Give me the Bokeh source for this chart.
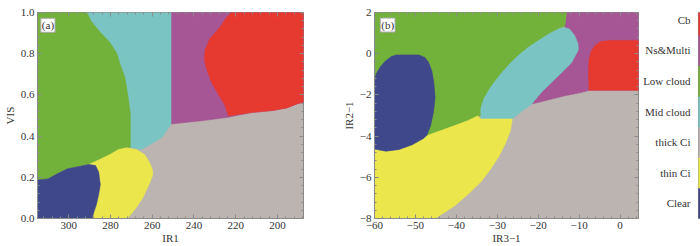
import numpy as np
from bokeh.plotting import figure
from bokeh.layouts import row
from bokeh.models import Range1d, FixedTicker, LinearAxis, Label
from bokeh.embed import file_html
from bokeh.resources import INLINE

# ---- classes (colour bar, bottom to top) ----
classes = ["Clear", "thin Ci", "thick Ci", "Mid cloud", "Low cloud", "Ns&Multi", "Cb"]
class_colors = ["#40488C", "#EAE64C", "#BBB4B0", "#7AC4C4", "#72B23A", "#A65694", "#E63930"]
col = dict(zip(classes, class_colors))

# ---- panel (a): IR1 vs VIS, region outlines ----
a_purple_x = [251, 187.5, 187.5, 190.8, 195.5, 201.8, 212.7, 223.7, 236.3, 251]
a_purple_y = [1.0, 1.0, 0.565, 0.556, 0.537, 0.525, 0.514, 0.491, 0.475, 0.459]
a_red_x = [222.2, 187.5, 187.5, 190.8, 195.5, 201.8, 212.7, 223.4, 225.3, 227.7, 231.6, 233.9, 235.0, 234.7, 232.4, 227.7, 224.5]
a_red_y = [1.0, 1.0, 0.565, 0.556, 0.537, 0.525, 0.514, 0.498, 0.553, 0.592, 0.662, 0.724, 0.771, 0.818, 0.872, 0.926, 0.973]
a_cyan_x = [291.4, 251, 251, 251.9, 253.5, 255.1, 257.4, 261.3, 265.3, 268.0, 270.5, 270.5, 271.5, 273.1, 275.4, 277.0, 280.5, 284.9, 289.3]
a_cyan_y = [1.0, 1.0, 0.459, 0.444, 0.421, 0.397, 0.381, 0.358, 0.335, 0.340, 0.345, 0.506, 0.584, 0.685, 0.748, 0.802, 0.857, 0.903, 0.958]
a_green_x = [315, 291.4, 289.3, 284.9, 280.5, 277.0, 275.4, 273.1, 271.5, 270.5, 270.5, 272.3, 276.2, 280.2, 284.9, 290.4, 294.3, 300.6, 305.3, 310.0, 315]
a_green_y = [1.0, 1.0, 0.958, 0.903, 0.857, 0.802, 0.748, 0.685, 0.584, 0.506, 0.345, 0.343, 0.335, 0.311, 0.288, 0.262, 0.254, 0.241, 0.218, 0.192, 0.187]
a_yellow_x = [290.4, 284.9, 280.2, 276.2, 272.3, 267.6, 263.7, 261.3, 259.8, 259.8, 261.3, 264.5, 267.6, 270.0, 272.0, 288.8, 288.0, 286.7, 285.7, 284.9, 285.7, 287.2]
a_yellow_y = [0.262, 0.288, 0.311, 0.335, 0.343, 0.335, 0.311, 0.272, 0.234, 0.210, 0.171, 0.101, 0.054, 0.023, 0.0, 0.0, 0.031, 0.070, 0.117, 0.164, 0.226, 0.257]
a_blue_x = [315, 310.0, 305.3, 300.6, 294.3, 290.4, 287.2, 285.7, 284.9, 285.7, 286.7, 288.0, 288.8, 315]
a_blue_y = [0.187, 0.192, 0.218, 0.241, 0.254, 0.262, 0.257, 0.226, 0.164, 0.117, 0.070, 0.031, 0.0, 0.0]

# ---- panel (b): IR3-1 vs IR2-1, region outlines ----
b_purple_x = [-13.1, 4.5, 4.5, -7.5, -9.5, -13.5, -17.5, -21.5, -13.5]
b_purple_y = [2, 2, -1.77, -1.77, -1.88, -2.04, -2.24, -2.44, 1.35]
b_red_x = [-2.3, 4.5, 4.5, -7.6, -7.7, -7.6, -7.1, -6.1, -4.7]
b_red_y = [0.645, 0.645, -1.77, -1.77, -0.93, -0.28, 0.1, 0.40, 0.59]
b_cyan_x = [-34.0, -34.0, -33.2, -31.6, -29.5, -27.1, -24.7, -22.3, -19.9, -17.5, -14.7, -13.5, -12.3, -11.1, -10.3, -10.2, -11.9, -14.3, -16.7, -19.1, -21.1, -21.5, -23.9, -26.35, -34.0]
b_cyan_y = [-3.02, -2.63, -2.16, -1.62, -1.07, -0.52, -0.06, 0.33, 0.64, 0.95, 1.23, 1.27, 1.19, 0.88, 0.49, 0.18, -0.45, -0.92, -1.38, -1.85, -2.32, -2.44, -2.78, -3.17, -3.17]
b_green_x = [-60, -13.1, -13.5, -14.7, -17.5, -19.9, -22.3, -24.7, -27.1, -29.5, -31.6, -33.2, -34.0, -34.0, -34.8, -37.2, -40.4, -43.6, -46.8, -48.0, -50.8, -54.0, -57.2, -60]
b_green_y = [2, 2, 1.35, 1.23, 0.95, 0.64, 0.33, -0.06, -0.52, -1.07, -1.62, -2.16, -2.63, -3.02, -3.02, -3.25, -3.49, -3.72, -3.95, -4.11, -4.42, -4.65, -4.73, -4.63]
b_yellow_x = [-60, -57.2, -54.0, -50.8, -48.0, -46.8, -43.6, -40.4, -37.2, -34.8, -34.0, -26.35, -26.76, -27.96, -29.55, -31.57, -33.98, -37.18, -40.38, -45.19, -60]
b_yellow_y = [-4.63, -4.73, -4.65, -4.42, -4.11, -3.95, -3.72, -3.49, -3.25, -3.02, -3.17, -3.17, -3.72, -4.34, -4.96, -5.59, -6.21, -6.83, -7.38, -8.0, -8.0]
b_blue_x = [-60, -59.6, -58.6, -57.4, -55.9, -54.7, -49.2, -47.7, -46.8, -46.0, -45.5, -45.2, -45.6, -46.3, -47.2, -48.0, -50.8, -54.0, -57.2, -60]
b_blue_y = [-1.30, -0.98, -0.65, -0.37, -0.14, -0.06, -0.06, -0.18, -0.42, -0.84, -1.40, -2.14, -2.85, -3.50, -3.95, -4.11, -4.42, -4.65, -4.73, -4.63]

# ---- ticks ----
a_xticks = [200, 220, 240, 260, 280, 300]
a_yticks = [0.0, 0.2, 0.4, 0.6, 0.8, 1.0]
b_xticks = [-60, -50, -40, -30, -20, -10, 0]
b_yticks = [-8, -6, -4, -2, 0, 2]

FONT = "Liberation Serif"
AX = "#8a8a8a"


def minors(ticks, lo, hi):
    step = (ticks[1] - ticks[0]) / 5.0
    m = np.arange(ticks[0] - 10 * step, ticks[-1] + 10 * step, step)
    return [float(v) for v in m if min(lo, hi) < v < max(lo, hi)]


def style(p, xticks, yticks, xlabel, ylabel, xfmt, yfmt, xr, yr):
    p.grid.visible = False
    p.outline_line_color = AX
    p.background_fill_color = col["thick Ci"]
    for ax, ticks, lab, fmt, r in ((p.xaxis[0], xticks, xlabel, xfmt, xr), (p.yaxis[0], yticks, ylabel, yfmt, yr)):
        ax.ticker = FixedTicker(ticks=ticks, minor_ticks=minors(ticks, *r))
        ax.axis_label = lab
        ax.axis_label_text_font = FONT
        ax.axis_label_text_font_size = "11px"
        ax.axis_label_text_font_style = "normal"
        ax.axis_label_text_color = "#333333"
        ax.major_label_text_font = FONT
        ax.major_label_text_font_size = "11px"
        ax.major_label_text_color = "#333333"
        ax.major_label_overrides = {t: fmt(t) for t in ticks}
        ax.axis_line_color = AX
        ax.major_tick_line_color = AX
        ax.minor_tick_line_color = AX
        ax.major_tick_in = 4
        ax.major_tick_out = 0
        ax.minor_tick_in = 2
        ax.minor_tick_out = 0
        ax.major_label_standoff = 3
    p.xaxis[0].axis_label_standoff = 0
    p.yaxis[0].axis_label_standoff = 2
    for loc, ticks, r in (("above", xticks, xr), ("right", yticks, yr)):
        ax = LinearAxis(ticker=FixedTicker(ticks=ticks, minor_ticks=minors(ticks, *r)),
                        major_label_overrides={t: "" for t in ticks},
                        major_label_standoff=0, axis_line_color=None,
                        major_tick_line_color=AX, minor_tick_line_color=AX,
                        major_tick_in=4, major_tick_out=0, minor_tick_in=2, minor_tick_out=0)
        p.add_layout(ax, loc)


def region(p, xs, ys, name):
    p.patch(xs, ys, fill_color=col[name], line_color=col[name], line_width=0.6)


# ---- panel (a) ----
p1 = figure(width=339, height=246, x_range=Range1d(315, 187.5), y_range=Range1d(0, 1.0),
            output_backend="svg", toolbar_location=None,
            min_border_left=33, min_border_right=36, min_border_top=4, min_border_bottom=28)
region(p1, a_purple_x, a_purple_y, "Ns&Multi")
region(p1, a_red_x, a_red_y, "Cb")
region(p1, a_cyan_x, a_cyan_y, "Mid cloud")
region(p1, a_green_x, a_green_y, "Low cloud")
region(p1, a_yellow_x, a_yellow_y, "thin Ci")
region(p1, a_blue_x, a_blue_y, "Clear")
style(p1, a_xticks, a_yticks, "IR1", "VIS", lambda t: str(int(t)), lambda t: f"{t:.1f}",
      (315, 187.5), (0, 1.0))
p1.add_layout(Label(x=313.4, y=0.972, text="(a)", text_baseline="top", text_align="left",
                    text_font=FONT, text_font_size="11px", text_color="#333333",
                    background_fill_color="white", border_line_color="#aaaaaa", padding=1))

# ---- panel (b) ----
p2 = figure(width=301, height=246, x_range=Range1d(-60, 4.5), y_range=Range1d(-8, 2),
            output_backend="svg", toolbar_location=None,
            min_border_left=30, min_border_right=2, min_border_top=4, min_border_bottom=28)
minus = lambda t: str(int(t)).replace("-", "\u2212")
region(p2, b_purple_x, b_purple_y, "Ns&Multi")
region(p2, b_red_x, b_red_y, "Cb")
region(p2, b_green_x, b_green_y, "Low cloud")
region(p2, b_cyan_x, b_cyan_y, "Mid cloud")
region(p2, b_yellow_x, b_yellow_y, "thin Ci")
region(p2, b_blue_x, b_blue_y, "Clear")
style(p2, b_xticks, b_yticks, "IR3\u22121", "IR2\u22121", minus, minus, (-60, 4.5), (-8, 2))
p2.add_layout(Label(x=-58.6, y=1.73, text="(b)", text_baseline="top", text_align="left",
                    text_font=FONT, text_font_size="11px", text_color="#333333",
                    background_fill_color="white", border_line_color="#aaaaaa", padding=1))

# ---- colour bar ----
idx = list(range(len(classes)))
p3 = figure(width=60, height=246, x_range=Range1d(0, 1), y_range=Range1d(0, 6.74),
            output_backend="svg", toolbar_location=None,
            min_border_left=53, min_border_right=0, min_border_top=12, min_border_bottom=13)
p3.quad(left=0, right=1, bottom=idx, top=[i + 1 for i in idx], fill_color=class_colors,
        line_color=class_colors)
p3.grid.visible = False
p3.xaxis.visible = False
p3.outline_line_color = AX
ya = p3.yaxis[0]
ya.ticker = FixedTicker(ticks=[i + 0.5 for i in idx], minor_ticks=[])
ya.major_label_overrides = {i + 0.5: c for i, c in zip(idx, classes)}
ya.major_label_text_font = FONT
ya.major_label_text_font_size = "11px"
ya.major_label_text_color = "#333333"
ya.axis_line_color = None
ya.major_tick_line_color = None
ya.minor_tick_line_color = None
ya.major_label_standoff = 2

layout = row(p1, p2, p3)
open("out.html", "w").write(file_html(layout, INLINE))
